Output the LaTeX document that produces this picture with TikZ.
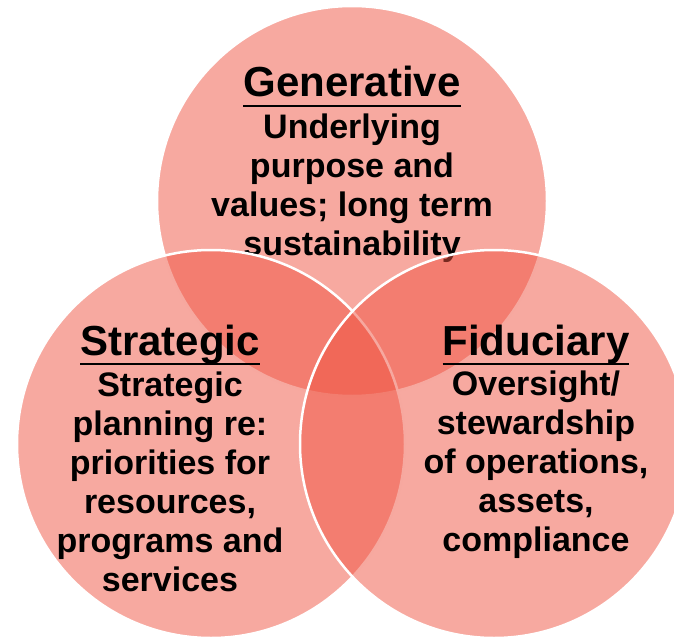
\documentclass[tikz,border=0pt]{standalone}
\usepackage{fontspec}
\setmainfont{Liberation Sans}
\definecolor{vennred}{RGB}{239,83,65}
\newcommand\titleul[1]{\setbox0=\hbox{#1}\rlap{\raisebox{-10.3pt}{\rule{\wd0}{2.7pt}}}\box0}
\begin{document}
\begin{tikzpicture}[x=1pt,y=-1pt,
  circ/.style={circle, draw=white, line width=2.5pt, fill=vennred, fill opacity=0.5, inner sep=0pt},
  titletext/.style={font=\bfseries\fontsize{42}{48}\selectfont, inner sep=0pt, anchor=base},
  bodytext/.style={font=\bfseries\fontsize{34}{39}\selectfont, align=center, inner sep=0pt, anchor=base}]
\useasboundingbox (0,0) rectangle (674,639);
% top circle
\node[circ, minimum size=390pt] (gen) at (352,201) {};
\node[titletext] (gentitle) at (352,97) {\titleul{Generative}};
\node[bodytext] (genbody) at (352,255) {Underlying\\purpose and\\values; long term\\sustainability};
% left circle
\node[circ, minimum size=388pt] (str) at (211,444) {};
\node[titletext] (strtitle) at (170,355) {\titleul{Strategic}};
\node[bodytext] (strbody) at (170,591) {Strategic\\planning re:\\priorities for\\resources,\\programs and\\services};
% right circle
\node[circ, minimum size=388pt] (fid) at (494,444) {};
\node[titletext] (fidtitle) at (536,355) {\titleul{Fiduciary}};
\node[bodytext] (fidbody) at (536,551) {Oversight/\\stewardship\\of operations,\\assets,\\compliance};
\end{tikzpicture}
\end{document}
